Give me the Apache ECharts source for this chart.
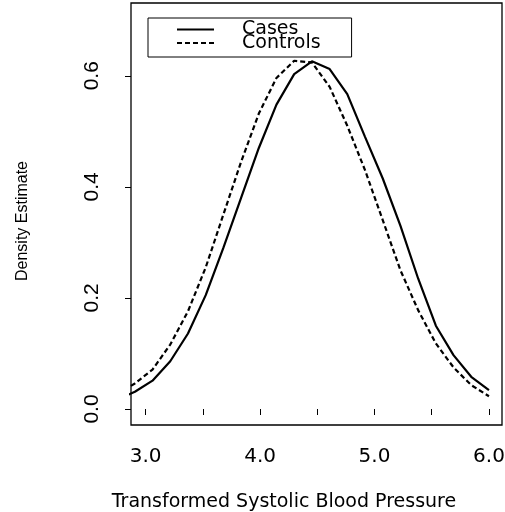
<!DOCTYPE html>
<html><head><meta charset="utf-8">
<script src="https://cdn.jsdelivr.net/npm/echarts@6/dist/echarts.min.js"></script>
<style>html,body{margin:0;padding:0;background:#fff}#c{width:505px;height:512px}</style>
</head><body><div id="c"></div>
<script>
// Evaluation grid (transformed systolic blood pressure)
const xGrid = [2.751, 2.906, 3.060, 3.215, 3.370, 3.525, 3.679, 3.834, 3.989, 4.143, 4.298,
               4.453, 4.608, 4.762, 4.917, 5.072, 5.226, 5.381, 5.536, 5.690, 5.845, 6.000];
// Density estimates
const cases    = [0.017, 0.031, 0.051, 0.086, 0.136, 0.205, 0.290, 0.380, 0.470, 0.548, 0.603,
                  0.626, 0.612, 0.567, 0.490, 0.415, 0.330, 0.235, 0.150, 0.097, 0.058, 0.034];
const controls = [0.027, 0.046, 0.071, 0.116, 0.176, 0.255, 0.350, 0.445, 0.532, 0.596, 0.627,
                  0.624, 0.580, 0.510, 0.430, 0.340, 0.250, 0.178, 0.118, 0.075, 0.043, 0.023];
const seriesNames = ['Cases', 'Controls'];
const xTickValues = [3.0, 3.5, 4.0, 4.5, 5.0, 5.5, 6.0];
const xLabelValues = [3.0, 4.0, 5.0, 6.0];
const yTickValues = [0.0, 0.2, 0.4, 0.6];
const xTitle = 'Transformed Systolic Blood Pressure';
const yTitle = 'Density Estimate';

const chart = echarts.init(document.getElementById('c'), null, {renderer: 'canvas'});
const wide = "'DejaVu Sans', 'Liberation Sans', sans-serif";
const arial = "'Liberation Sans', Arial, sans-serif";

chart.setOption({
  animation: false,
  backgroundColor: '#fff',
  grid: {left: 131, right: 3, top: 3, bottom: 87, show: true, borderColor: '#000', borderWidth: 1.3,
         backgroundColor: 'transparent', containLabel: false, outerBoundsMode: 'none'},
  legend: {
    left: 148, top: 18, orient: 'vertical',
    data: seriesNames,
    itemWidth: 37, itemHeight: 14, itemGap: -5.5,
    padding: [2, 31, 4.5, 28],
    borderColor: '#000', borderWidth: 1,
    backgroundColor: 'transparent',
    itemStyle: {color: 'rgba(0,0,0,0)', borderWidth: 0, opacity: 0},
    textStyle: {fontFamily: wide, fontSize: 19, color: '#000', padding: [0, 0, 0, 23]},
    selectedMode: false
  },
  xAxis: {
    type: 'value', min: 2.872, max: 6.114,
    axisLine: {show: false},
    splitLine: {show: false},
    axisTick: {show: true, length: 6, inside: false, customValues: xTickValues, lineStyle: {color: '#000', width: 1}},
    axisLabel: {customValues: xLabelValues, formatter: v => v.toFixed(1), margin: 22,
                fontFamily: wide, fontSize: 20, color: '#000'},
    name: xTitle, nameLocation: 'middle', nameGap: 68,
    nameTextStyle: {fontFamily: wide, fontSize: 19, color: '#000', padding: [0, 65, 0, 0]}
  },
  yAxis: {
    type: 'value', min: -0.0288, max: 0.731,
    axisLine: {show: false},
    splitLine: {show: false},
    axisTick: {show: true, length: 6, inside: false, customValues: yTickValues, lineStyle: {color: '#000', width: 1}},
    axisLabel: {customValues: yTickValues, formatter: v => v.toFixed(1), rotate: 90, margin: 28,
                fontFamily: arial, fontSize: 21, color: '#000'},
    name: yTitle, nameLocation: 'middle', nameGap: 100, nameRotate: 90,
    nameTextStyle: {fontFamily: arial, fontSize: 16, color: '#000', padding: [0, 14, 0, 0]}
  },
  series: [
    {name: seriesNames[0], type: 'line', symbol: 'none', clip: true,
     data: xGrid.map((x, i) => [x, cases[i]]),
     lineStyle: {color: '#000', width: 2.2, type: 'solid'}, itemStyle: {color: '#000'}},
    {name: seriesNames[1], type: 'line', symbol: 'none', clip: true,
     data: xGrid.map((x, i) => [x, controls[i]]),
     lineStyle: {color: '#000', width: 2.2, type: [5, 3]}, itemStyle: {color: '#000'}}
  ]
});
</script></body></html>
